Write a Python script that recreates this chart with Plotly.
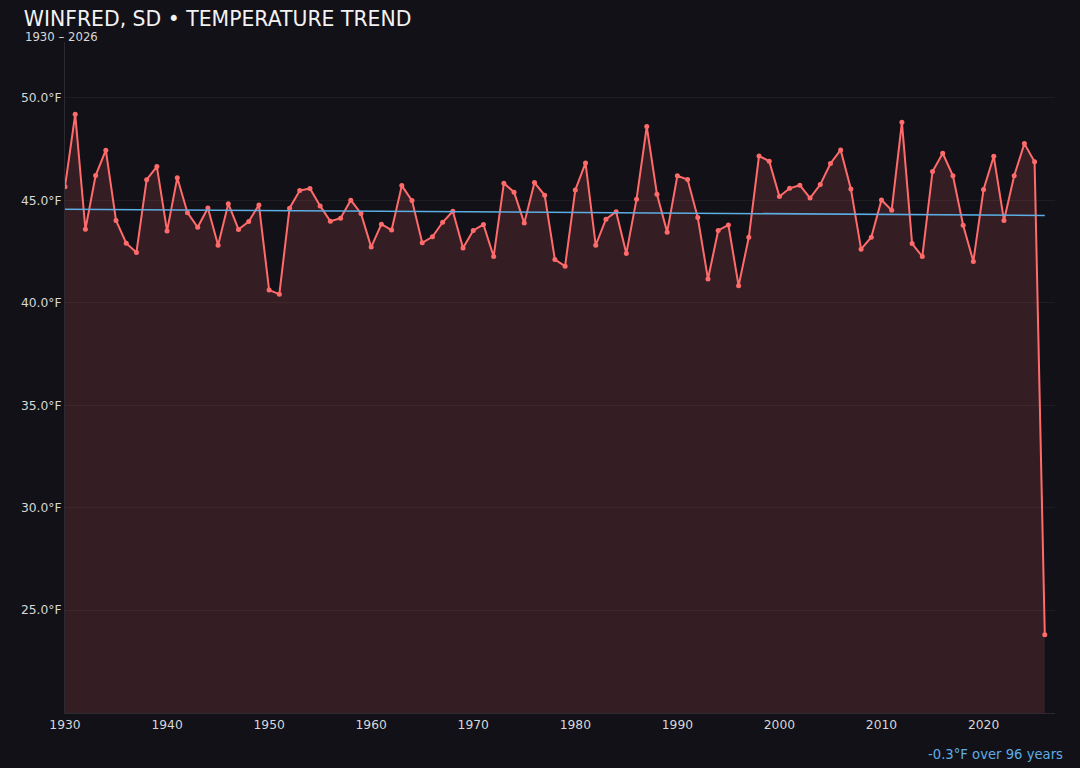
import numpy as np
import plotly.graph_objects as go

years = list(range(1930, 2027))
temps = [
    45.67, 49.20, 43.59, 46.21, 47.45, 44.02, 42.91, 42.46, 46.01, 46.65,
    43.51, 46.10, 44.40, 43.69, 44.63, 42.81, 44.84, 43.58, 43.97, 44.78,
    40.62, 40.42, 44.62, 45.48, 45.58, 44.73, 43.98, 44.13, 45.01, 44.36,
    42.72, 43.84, 43.55, 45.72, 44.99, 42.93, 43.22, 43.93, 44.47, 42.67,
    43.53, 43.82, 42.26, 45.84, 45.40, 43.89, 45.87, 45.25, 42.11, 41.79,
    45.51, 46.83, 42.81, 44.08, 44.45, 42.41, 45.06, 48.60, 45.30, 43.45,
    46.20, 46.02, 44.16, 41.16, 43.53, 43.80, 40.83, 43.20, 47.17, 46.91,
    45.19, 45.59, 45.74, 45.11, 45.77, 46.80, 47.46, 45.56, 42.62, 43.20,
    45.02, 44.52, 48.81, 42.89, 42.26, 46.41, 47.30, 46.20, 43.79, 42.02,
    45.53, 47.15, 44.02, 46.20, 47.77, 46.88, 23.80,
]
y_ticks = [25, 30, 35, 40, 45, 50]
x_ticks = [1930, 1940, 1950, 1960, 1970, 1980, 1990, 2000, 2010, 2020]

slope, intercept = np.polyfit(years, temps, 1)
trend = [slope * y + intercept for y in years]
span = years[-1] - years[0]
change = slope * span

BG = "#121117"
FONT = "DejaVu Sans"

fig = go.Figure()
fig.add_trace(go.Scatter(
    x=years, y=temps, mode="lines+markers",
    line=dict(color="#ff6b6b", width=2),
    marker=dict(color="#ff6b6b", size=5),
    fill="tozeroy", fillcolor="rgba(255,107,107,0.15)",
    hoverinfo="x+y", showlegend=False,
))
fig.add_trace(go.Scatter(
    x=years, y=trend, mode="lines",
    line=dict(color="#5dade2", width=1.6),
    hoverinfo="skip", showlegend=False,
))

fig.update_layout(
    width=1080, height=768,
    paper_bgcolor=BG, plot_bgcolor=BG,
    margin=dict(l=65, r=25, t=42, b=55),
    font=dict(family=FONT, color="#d8d8d8", size=12),
    title=dict(text="WINFRED, SD • TEMPERATURE TREND", x=0.022, xanchor="left",
               y=0.9755, yanchor="middle", font=dict(size=20.4, color="#f2f2f2", family=FONT)),
    xaxis=dict(range=[1930, 2027], tickvals=x_ticks, showgrid=False,
               showline=True, linecolor="#2a2a30", linewidth=1, zeroline=False,
               ticks="", tickfont=dict(size=12.3, color="#d8d8d8")),
    yaxis=dict(range=[19.98, 52.73], tickvals=y_ticks,
               ticktext=[f"{v:.1f}°F" for v in y_ticks],
               showgrid=True, gridcolor="rgba(255,255,255,0.05)", gridwidth=1,
               showline=True, linecolor="#2a2a30", linewidth=1, zeroline=False,
               ticks="", tickfont=dict(size=12.3, color="#d8d8d8")),
    annotations=[
        dict(text=f"{years[0]} – {years[-1]}", xref="paper", yref="paper",
             x=-0.042, y=0.9945, xanchor="left", yanchor="bottom", showarrow=False,
             font=dict(size=11.7, color="#d8d8d8", family=FONT)),
        dict(text=f"{change:+.1f}°F over {span} years".replace("+", ""), xref="paper", yref="paper",
             x=1.010, y=-0.048, xanchor="right", yanchor="top", showarrow=False,
             font=dict(size=13.2, color="#5dade2", family=FONT)),
    ],
)
fig.write_html("out.html", config={"displayModeBar": False},
               post_script="document.body.style.margin='0';document.body.style.overflow='hidden';")
